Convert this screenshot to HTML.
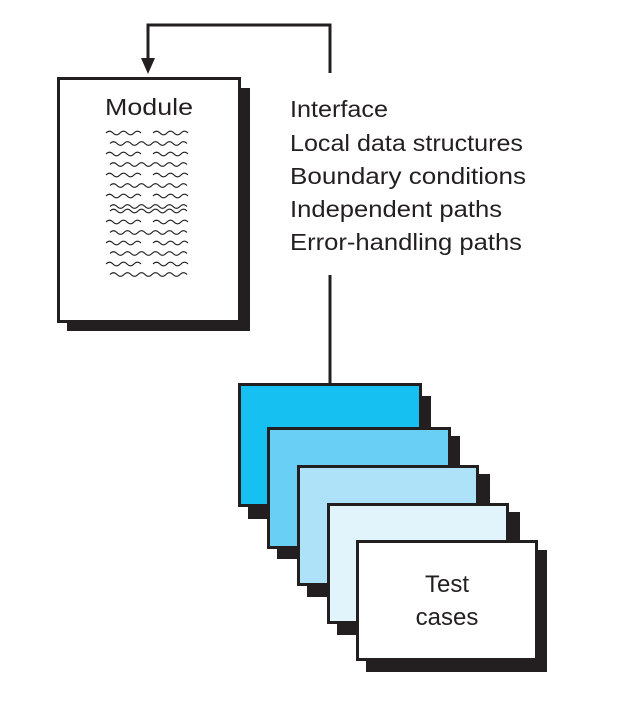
<!DOCTYPE html>
<html><head><meta charset="utf-8"><style>body{margin:0;background:#fff}svg{display:block}</style></head>
<body>
<svg width="633" height="707" viewBox="0 0 633 707" xmlns="http://www.w3.org/2000/svg" font-family="Liberation Sans, sans-serif" fill="#231f20">
<defs>
<path id="ws" d="M0 0 q3.5 -3.5 7 0 t7 0 t7 0 t7 0 t7 0" fill="none" stroke="#231f20" stroke-width="1.1"/>
<path id="wl" d="M0 0 q3.5 -3.5 7 0 t7 0 t7 0 t7 0 t7 0 t7 0 t7 0 t7 0 t7 0 t7 0 t7 0" fill="none" stroke="#231f20" stroke-width="1.1"/>
</defs>
<polyline points="330,73 330,25 148,25 148,60" fill="none" stroke="#231f20" stroke-width="3"/>
<polygon points="141,58 155,58 148,74" fill="#231f20"/>
<line x1="330" y1="275" x2="330" y2="388" stroke="#231f20" stroke-width="3"/>
<rect x="67" y="88" width="183" height="243" fill="#231f20"/>
<rect x="58.5" y="78.5" width="181" height="243" fill="#fff" stroke="#231f20" stroke-width="3"/>
<text x="149" y="115" font-size="23" text-anchor="middle" textLength="88" lengthAdjust="spacingAndGlyphs">Module</text>
<g>
<use href="#ws" x="106" y="133"/><use href="#ws" x="153" y="133"/>
<use href="#wl" x="110" y="143.5"/>
<use href="#ws" x="106" y="154"/><use href="#ws" x="153" y="154"/>
<use href="#wl" x="110" y="164.5"/>
<use href="#ws" x="106" y="175"/><use href="#ws" x="153" y="175"/>
<use href="#wl" x="110" y="185.5"/>
<use href="#ws" x="106" y="196"/><use href="#ws" x="153" y="196"/>
<use href="#wl" x="110" y="206.5"/><use href="#wl" x="110" y="211"/>
<use href="#ws" x="106" y="222"/><use href="#ws" x="153" y="222"/>
<use href="#wl" x="110" y="232.5"/>
<use href="#ws" x="106" y="243"/><use href="#ws" x="153" y="243"/>
<use href="#wl" x="110" y="253.5"/>
<use href="#ws" x="106" y="264"/><use href="#ws" x="153" y="264"/>
<use href="#wl" x="110" y="274.5"/>
</g>
<g font-size="23">
<text x="290" y="117" textLength="98" lengthAdjust="spacingAndGlyphs">Interface</text>
<text x="290" y="151" textLength="233" lengthAdjust="spacingAndGlyphs">Local data structures</text>
<text x="290" y="184" textLength="236" lengthAdjust="spacingAndGlyphs">Boundary conditions</text>
<text x="290" y="217" textLength="212" lengthAdjust="spacingAndGlyphs">Independent paths</text>
<text x="290" y="250" textLength="232" lengthAdjust="spacingAndGlyphs">Error-handling paths</text>
</g>
<g stroke="#231f20" stroke-width="3">
<rect x="248" y="396" width="183" height="123" fill="#231f20" stroke="none"/>
<rect x="239.5" y="384.5" width="181" height="121" fill="#16c0f0"/>
<rect x="277" y="436" width="183" height="123" fill="#231f20" stroke="none"/>
<rect x="268.5" y="428.5" width="181" height="119" fill="#6acff5"/>
<rect x="307" y="474" width="183" height="123" fill="#231f20" stroke="none"/>
<rect x="298.5" y="466.5" width="179" height="118" fill="#aee2f9"/>
<rect x="337" y="512" width="183" height="123" fill="#231f20" stroke="none"/>
<rect x="328.5" y="504.5" width="179" height="118" fill="#e1f4fc"/>
<rect x="366" y="550" width="181" height="122" fill="#231f20" stroke="none"/>
<rect x="357.5" y="541.5" width="179" height="118" fill="#fff"/>
</g>
<text x="447" y="592" font-size="24" text-anchor="middle">Test</text>
<text x="447" y="625" font-size="24" text-anchor="middle">cases</text>
</svg>
</body></html>
